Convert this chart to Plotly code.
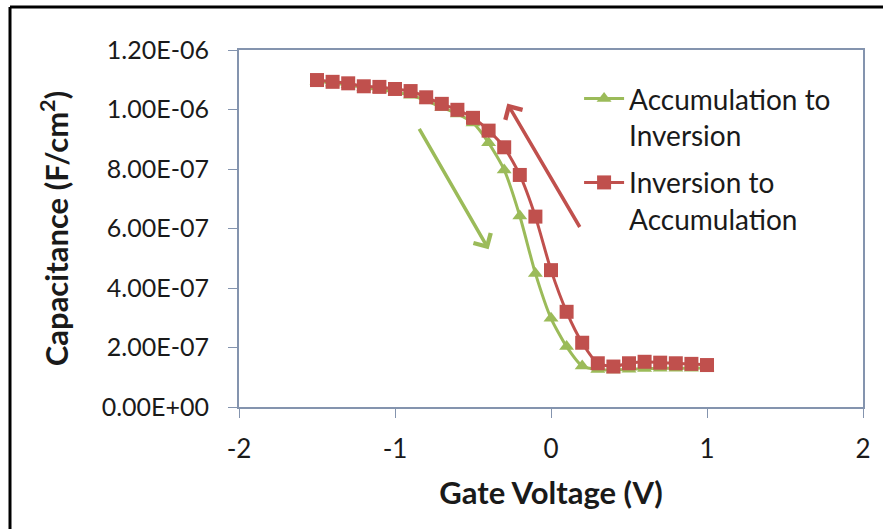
import plotly.graph_objects as go

# Gate voltage sweep (V)
voltage = [-1.5, -1.4, -1.3, -1.2, -1.1, -1.0, -0.9, -0.8, -0.7, -0.6, -0.5, -0.4, -0.3,
           -0.2, -0.1, 0.0, 0.1, 0.2, 0.3, 0.4, 0.5, 0.6, 0.7, 0.8, 0.9, 1.0]

# Capacitance (F/cm^2), forward sweep: accumulation -> inversion
acc_to_inv = [1.095e-6, 1.089e-6, 1.083e-6, 1.074e-6, 1.067e-6, 1.059e-6, 1.048e-6, 1.030e-6,
              1.007e-6, 0.985e-6, 0.955e-6, 0.888e-6, 0.797e-6, 0.642e-6, 0.449e-6, 0.298e-6,
              0.203e-6, 0.138e-6, 0.126e-6, 0.124e-6, 0.127e-6, 0.129e-6, 0.130e-6, 0.130e-6,
              0.130e-6, 0.131e-6]

# Capacitance (F/cm^2), reverse sweep: inversion -> accumulation
inv_to_acc = [1.099e-6, 1.093e-6, 1.088e-6, 1.078e-6, 1.076e-6, 1.069e-6, 1.062e-6, 1.041e-6,
              1.019e-6, 0.999e-6, 0.972e-6, 0.929e-6, 0.873e-6, 0.780e-6, 0.640e-6, 0.460e-6,
              0.320e-6, 0.216e-6, 0.147e-6, 0.136e-6, 0.147e-6, 0.152e-6, 0.149e-6, 0.147e-6,
              0.145e-6, 0.141e-6]

y_tickvals = [0, 2e-7, 4e-7, 6e-7, 8e-7, 1.0e-6, 1.2e-6]
y_ticktext = ["0.00E+00", "2.00E-07", "4.00E-07", "6.00E-07", "8.00E-07", "1.00E-06", "1.20E-06"]
x_tickvals = [-2, -1, 0, 1, 2]
x_ticktext = ["-2", "-1", "0", "1", "2"]

GREEN = "#9BBB59"
RED = "#C0504D"
FONT = "Lato"
TEXT = "#1A1A1A"
AXIS_COLOR = "#8494AE"

fig = go.Figure()

fig.add_trace(go.Scatter(
    x=voltage, y=acc_to_inv, mode="lines+markers",
    name="Accumulation to<br>Inversion", legendgroup="fwd",
    line=dict(color=GREEN, width=3, shape="spline", smoothing=0.6),
    marker=dict(symbol="triangle-up", size=13, color=GREEN),
))
fig.add_trace(go.Scatter(
    x=voltage, y=inv_to_acc, mode="lines+markers",
    name="Inversion to<br>Accumulation", legendgroup="rev",
    line=dict(color=RED, width=3, shape="spline", smoothing=0.6),
    marker=dict(symbol="square", size=14, color=RED),
))

# Sweep-direction arrows
fig.add_annotation(x=-0.40, y=0.53e-6, ax=-0.85, ay=0.94e-6,
                   xref="x", yref="y", axref="x", ayref="y",
                   text="", showarrow=True, arrowhead=4, arrowsize=1.1,
                   arrowwidth=3.5, arrowcolor=GREEN)
fig.add_annotation(x=-0.28, y=1.02e-6, ax=0.19, ay=0.60e-6,
                   xref="x", yref="y", axref="x", ayref="y",
                   text="", showarrow=True, arrowhead=4, arrowsize=1.1,
                   arrowwidth=3.5, arrowcolor=RED)

# Outer black frame (left and top edges)
fig.add_shape(type="line", xref="paper", yref="paper",
              x0=-229 / 624, x1=-229 / 624, y0=(407 - 529) / 357, y1=(407 - 7) / 357,
              line=dict(color="black", width=3))
fig.add_shape(type="line", xref="paper", yref="paper",
              x0=-229 / 624, x1=644 / 624, y0=(407 - 7) / 357, y1=(407 - 7) / 357,
              line=dict(color="black", width=3))

fig.update_layout(
    width=883, height=529,
    margin=dict(l=239, r=20, t=50, b=122),
    paper_bgcolor="white", plot_bgcolor="white",
    font=dict(family=FONT, size=24, color=TEXT),
    showlegend=True,
    legend=dict(x=0.545, y=0.933, xanchor="left", yanchor="top",
                bgcolor="rgba(255,255,255,0)", font=dict(size=28, color=TEXT),
                valign="top", tracegroupgap=8, itemwidth=40),
    xaxis=dict(range=[-2, 2], tickvals=x_tickvals, ticktext=x_ticktext,
               tickfont=dict(size=26), ticks="outside", ticklen=9, ticklabelstandoff=9,
               tickcolor=AXIS_COLOR, showline=True, linecolor=AXIS_COLOR, linewidth=2,
               mirror=True, showgrid=False, zeroline=False,
               title=dict(text="<b>Gate Voltage (V)</b>", font=dict(size=31), standoff=19)),
    yaxis=dict(range=[0, 1.2e-6], tickvals=y_tickvals, ticktext=y_ticktext,
               tickfont=dict(size=25), ticks="outside", ticklen=9, ticklabelstandoff=14,
               tickcolor=AXIS_COLOR, showline=True,
               linecolor=AXIS_COLOR, linewidth=2, mirror=True, showgrid=False,
               zeroline=False,
               title=dict(text="<b>Capacitance (F/cm<sup>2</sup>)</b>", font=dict(size=31),
                          standoff=24)),
)

fig.write_html("out.html")
